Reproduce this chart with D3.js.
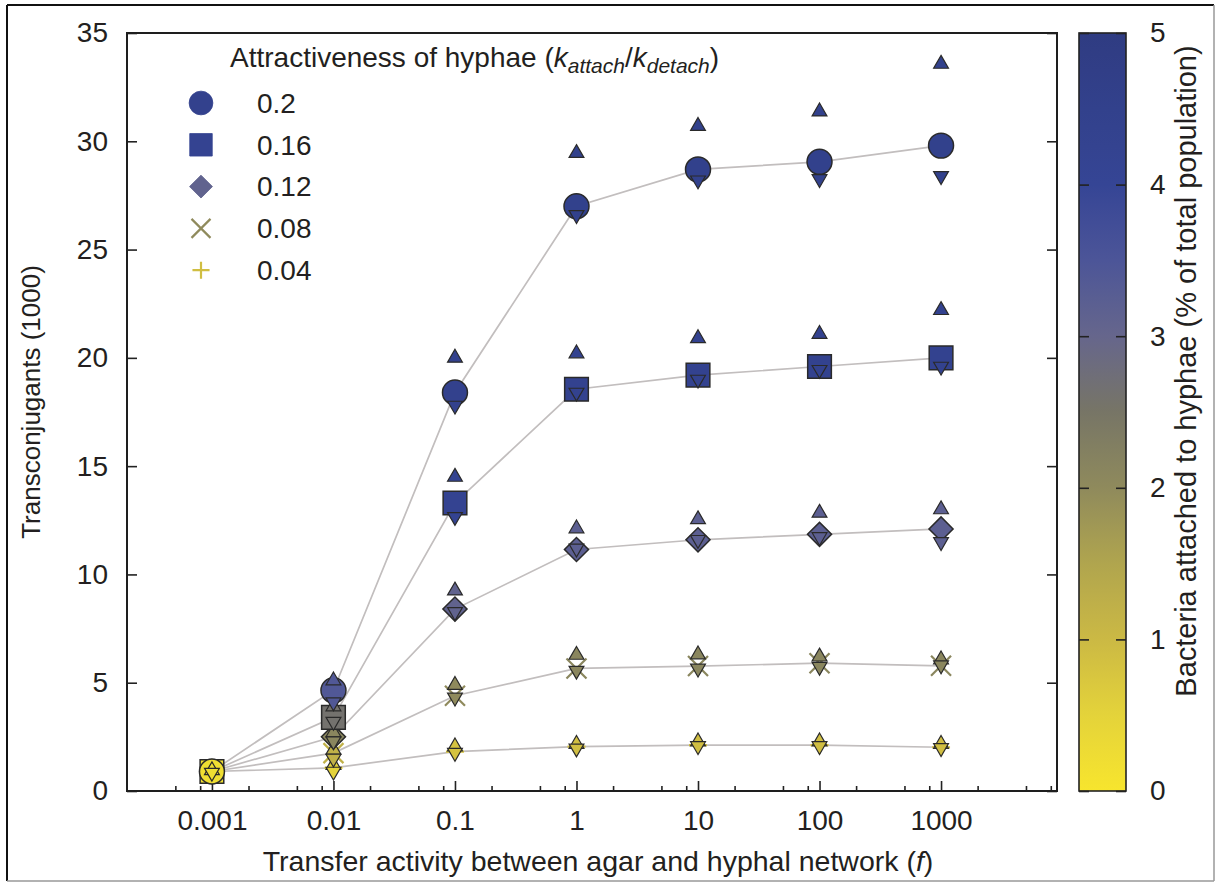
<!DOCTYPE html>
<html>
<head>
<meta charset="utf-8">
<script src="https://cdn.jsdelivr.net/npm/d3@7"></script>
<style>
  body { margin: 0; background: #fff; }
  svg text { font-family: "Liberation Sans", Arial, sans-serif; fill: #231f20; }
</style>
</head>
<body>
<div id="chart"></div>
<script>
// transfer activity f (x values)
const transferF = [0.001, 0.01, 0.1, 1, 10, 100, 1000];
// attractiveness k_attach/k_detach, one per series
const ratioLabels = ["0.2", "0.16", "0.12", "0.08", "0.04"];
// transconjugants (1000), per series
const meanValues = [
  [0.9, 4.65, 18.4, 27.0, 28.7, 29.05, 29.8],
  [0.9, 3.4, 13.3, 18.55, 19.2, 19.6, 20.0],
  [0.9, 2.5, 8.4, 11.15, 11.6, 11.85, 12.1],
  [0.9, 1.75, 4.4, 5.66, 5.77, 5.9, 5.78],
  [0.9, 1.07, 1.82, 2.05, 2.12, 2.12, 2.02]
];
const upperValues = [
  [0.95, 5.1, 20.0, 29.45, 30.7, 31.37, 33.57],
  [0.95, 3.9, 14.5, 20.2, 20.9, 21.1, 22.2],
  [0.95, 2.7, 9.25, 12.12, 12.54, 12.84, 13.0],
  [0.95, 1.9, 4.89, 6.28, 6.3, 6.2, 6.07],
  [0.95, 1.2, 2.05, 2.17, 2.28, 2.28, 2.17]
];
const lowerValues = [
  [0.85, 4.1, 17.8, 26.6, 28.2, 28.26, 28.4],
  [0.85, 3.2, 12.66, 18.4, 19.0, 19.45, 19.6],
  [0.85, 2.3, 8.27, 11.2, 11.6, 11.73, 11.5],
  [0.85, 1.5, 4.32, 5.56, 5.66, 5.74, 5.81],
  [0.85, 0.9, 1.77, 1.97, 2.08, 2.08, 1.99]
];
// bacteria attached to hyphae (% of total population), drives colour
const attachedPct = [
  [0.2, 3.4, 4.4, 4.5, 4.5, 4.5, 4.5],
  [0.2, 2.6, 4.2, 4.3, 4.3, 4.3, 4.3],
  [0.2, 2.1, 3.1, 3.2, 3.2, 3.2, 3.2],
  [0.2, 1.2, 2.0, 2.1, 2.1, 2.1, 2.1],
  [0.2, 0.5, 0.8, 0.9, 0.9, 0.9, 0.9]
];
const yTicks = [0, 5, 10, 15, 20, 25, 30, 35];
const colorTicks = [0, 1, 2, 3, 4, 5];
const legendValues = [4.4, 4.2, 3.1, 2.0, 0.9];

const W = 1219, H = 884;
const margin = {top: 33, left: 127, right: 1057, bottom: 791};

const svg = d3.select("#chart").append("svg")
  .attr("width", W).attr("height", H);

// outer frame of the figure
svg.append("line").attr("x1", 7).attr("x2", 1214).attr("y1", 5).attr("y2", 5)
  .attr("stroke", "#111").attr("stroke-width", 2);
svg.append("line").attr("x1", 7).attr("x2", 7).attr("y1", 5).attr("y2", 881)
  .attr("stroke", "#111").attr("stroke-width", 2);
svg.append("line").attr("x1", 1214).attr("x2", 1214).attr("y1", 5).attr("y2", 881)
  .attr("stroke", "#999").attr("stroke-width", 1.5);
svg.append("line").attr("x1", 7).attr("x2", 1214).attr("y1", 881).attr("y2", 881)
  .attr("stroke", "#999").attr("stroke-width", 1.5);

// scales
const x = d3.scaleLog().domain([0.0002, 9000]).range([margin.left, margin.right]);
const y = d3.scaleLinear().domain([0, 35]).range([margin.bottom, margin.top]);
const color = d3.scaleLinear()
  .domain([0, 0.5, 1, 1.5, 2, 2.5, 3, 3.5, 4, 5])
  .range(["#f7e52d", "#e4d33a", "#cbb944", "#b0a54e", "#8f8a5c", "#777566",
          "#66668c", "#4c5598", "#354595", "#2f3c82"])
  .clamp(true);

// minor log ticks at 2,5,8 per decade
let minorTicks = [];
for (let e = -4; e <= 3; e++) {
  [2, 5, 8].forEach(m => {
    const v = m * Math.pow(10, e);
    if (v > 0.00021 && v < 9000) minorTicks.push(v);
  });
}

// axes
const gx = svg.append("g").attr("transform", `translate(0,${margin.bottom})`)
  .call(d3.axisBottom(x).tickValues(transferF).tickFormat(d => String(d))
    .tickSizeInner(-10).tickSizeOuter(0).tickPadding(19));
gx.select(".domain").remove();
gx.selectAll("text").style("font-size", "28px").attr("fill", "#231f20");
gx.selectAll("line").attr("stroke", "#222").attr("stroke-width", 1.6);

const gxm = svg.append("g").attr("transform", `translate(0,${margin.bottom})`)
  .call(d3.axisBottom(x).tickValues(minorTicks).tickFormat("")
    .tickSizeInner(-5).tickSizeOuter(0));
gxm.select(".domain").remove();
gxm.selectAll("line").attr("stroke", "#222").attr("stroke-width", 1.6);

const gy = svg.append("g").attr("transform", `translate(${margin.left},0)`)
  .call(d3.axisLeft(y).tickValues(yTicks).tickSizeInner(-10).tickSizeOuter(0).tickPadding(19));
gy.select(".domain").remove();
gy.selectAll("text").style("font-size", "28px").attr("fill", "#231f20");
gy.selectAll("line").attr("stroke", "#222").attr("stroke-width", 1.6);

const gyr = svg.append("g").attr("transform", `translate(${margin.right},0)`)
  .call(d3.axisRight(y).tickValues(yTicks).tickFormat("").tickSizeInner(-10).tickSizeOuter(0));
gyr.select(".domain").remove();
gyr.selectAll("line").attr("stroke", "#222").attr("stroke-width", 1.6);

// plot frame
svg.append("rect")
  .attr("x", margin.left).attr("y", margin.top)
  .attr("width", margin.right - margin.left).attr("height", margin.bottom - margin.top)
  .attr("fill", "none").attr("stroke", "#1e1e1e").attr("stroke-width", 2);

// axis titles
svg.append("text")
  .attr("x", 598).attr("y", 871).attr("text-anchor", "middle")
  .style("font-size", "28.5px")
  .html('Transfer activity between agar and hyphal network (<tspan font-style="italic">f</tspan>)');

svg.append("text")
  .attr("transform", "translate(40,402) rotate(-90)")
  .attr("text-anchor", "middle")
  .style("font-size", "26px")
  .text("Transconjugants (1000)");

// connecting lines
const line = d3.line().x((d, i) => x(transferF[i])).y(d => y(d));
svg.append("g").selectAll("path")
  .data(meanValues)
  .join("path")
  .attr("d", d => line(d))
  .attr("fill", "none")
  .attr("stroke", "#c2bebe")
  .attr("stroke-width", 1.7);

// marker shapes
function markerPath(s, scale) {
  scale = scale || 1;
  if (s === 0) return d3.symbol(d3.symbolCircle, 490 * scale * scale)();
  if (s === 1) return d3.symbol(d3.symbolSquare, 560 * scale * scale)();
  if (s === 2) return d3.symbol(d3.symbolSquare, 290 * scale * scale)();
  if (s === 3) {
    const r = 10 * scale;
    return `M${-r},${-r}L${r},${r}M${-r},${r}L${r},${-r}`;
  }
  const r = 9 * scale;
  return `M${-r},0L${r},0M0,${-r}L0,${r}`;
}
const triPath = d3.symbol(d3.symbolTriangle, 95)();

const markLayer = svg.append("g");
for (let s = ratioLabels.length - 1; s >= 0; s--) {
  const pts = transferF.map((f, i) => ({
    f: f, mean: meanValues[s][i], up: upperValues[s][i],
    low: lowerValues[s][i], c: color(attachedPct[s][i])
  }));
  const g = markLayer.append("g");
  const filled = s < 3;
  g.selectAll("path.mark")
    .data(pts)
    .join("path")
    .attr("class", "mark")
    .attr("d", markerPath(s))
    .attr("transform", d => `translate(${x(d.f)},${y(d.mean)})` + (s === 2 ? " rotate(45)" : ""))
    .attr("fill", d => filled ? d.c : "none")
    .attr("stroke", d => filled ? "#2a2a2a" : d.c)
    .attr("stroke-width", filled ? 1.5 : 2.2);
  g.selectAll("path.up")
    .data(pts)
    .join("path")
    .attr("class", "up")
    .attr("d", triPath)
    .attr("transform", d => `translate(${x(d.f)},${y(d.up)})`)
    .attr("fill", d => d.c)
    .attr("stroke", "#2a2a2a")
    .attr("stroke-width", 1.2);
  g.selectAll("path.down")
    .data(pts)
    .join("path")
    .attr("class", "down")
    .attr("d", triPath)
    .attr("transform", d => `translate(${x(d.f)},${y(d.low)}) rotate(180)`)
    .attr("fill", d => d.c)
    .attr("stroke", "#2a2a2a")
    .attr("stroke-width", 1.2);
}

// legend
const legend = svg.append("g");
legend.append("text")
  .attr("x", 230).attr("y", 67)
  .style("font-size", "28px")
  .html('Attractiveness of hyphae (<tspan font-style="italic">k</tspan>' +
        '<tspan font-style="italic" font-size="21px" dy="6">attach</tspan>' +
        '<tspan dy="-6">/</tspan><tspan font-style="italic">k</tspan>' +
        '<tspan font-style="italic" font-size="21px" dy="6">detach</tspan>' +
        '<tspan dy="-6">)</tspan>');

const legendRows = legend.selectAll("g.row")
  .data(ratioLabels)
  .join("g")
  .attr("class", "row")
  .attr("transform", (d, i) => `translate(201,${103 + i * 41.8})`);
legendRows.append("path")
  .attr("d", (d, i) => markerPath(i, 0.95))
  .attr("transform", (d, i) => i === 2 ? "rotate(45)" : null)
  .attr("fill", (d, i) => i < 3 ? color(legendValues[i]) : "none")
  .attr("stroke", (d, i) => color(legendValues[i]))
  .attr("stroke-width", (d, i) => i < 3 ? 0.8 : 2.2);
legendRows.append("text")
  .attr("x", 56).attr("dy", "0.35em")
  .style("font-size", "28px")
  .text(d => d);

// colour bar
const cbX = 1079, cbW = 47;
const cScale = d3.scaleLinear().domain([0, 5]).range([margin.bottom, margin.top]);
const defs = svg.append("defs");
const grad = defs.append("linearGradient").attr("id", "cbgrad")
  .attr("x1", 0).attr("x2", 0).attr("y1", 1).attr("y2", 0);
grad.selectAll("stop")
  .data(d3.range(0, 5.01, 0.25))
  .join("stop")
  .attr("offset", d => d / 5)
  .attr("stop-color", d => color(d));
svg.append("rect")
  .attr("x", cbX).attr("y", margin.top)
  .attr("width", cbW).attr("height", margin.bottom - margin.top)
  .attr("fill", "url(#cbgrad)")
  .attr("stroke", "#222").attr("stroke-width", 1.6);

const gc = svg.append("g").attr("transform", `translate(${cbX + cbW},0)`)
  .call(d3.axisRight(cScale).tickValues(colorTicks).tickFormat(d3.format("d"))
    .tickSizeInner(-10).tickSizeOuter(0).tickPadding(24));
gc.select(".domain").remove();
gc.selectAll("text").style("font-size", "28px").attr("fill", "#231f20");
gc.selectAll("line").attr("stroke", "#222").attr("stroke-width", 1.6);
const gcl = svg.append("g").attr("transform", `translate(${cbX},0)`)
  .call(d3.axisLeft(cScale).tickValues(colorTicks).tickFormat("").tickSizeInner(-10).tickSizeOuter(0));
gcl.select(".domain").remove();
gcl.selectAll("line").attr("stroke", "#222").attr("stroke-width", 1.6);

svg.append("text")
  .attr("transform", "translate(1196,371) rotate(-90)")
  .attr("text-anchor", "middle")
  .style("font-size", "29px")
  .text("Bacteria attached to hyphae (% of total population)");
</script>
</body>
</html>
